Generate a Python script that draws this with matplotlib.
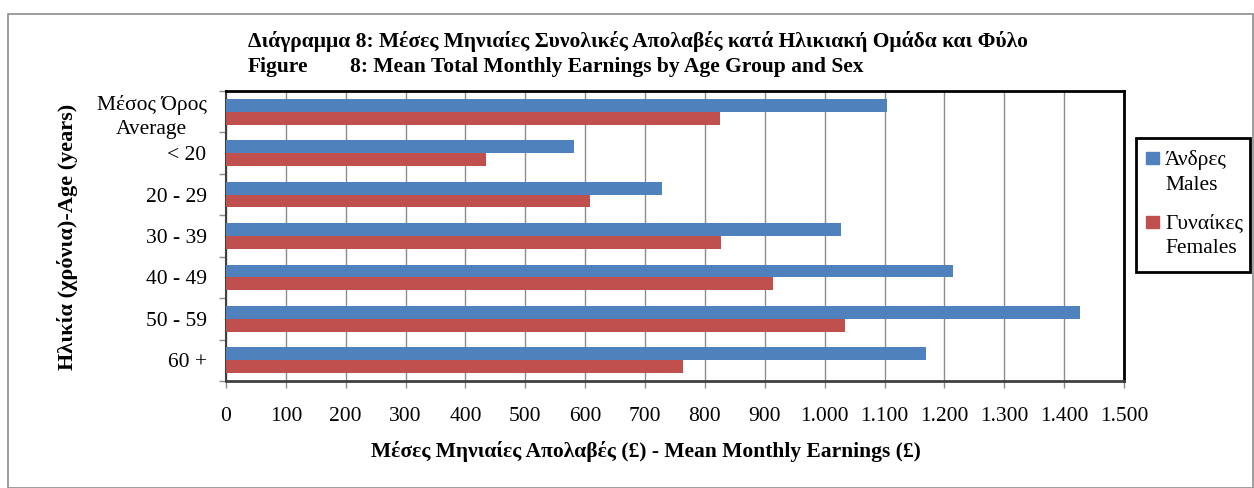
import numpy as np
import matplotlib
matplotlib.use("Agg")
import matplotlib.pyplot as plt
from matplotlib.patches import Rectangle
from matplotlib.ticker import MultipleLocator, FuncFormatter

plt.rcParams['font.family'] = ['Liberation Serif', 'DejaVu Serif']

# --- data ---
age_groups = ["Μέσος Όρος\nAverage", "< 20", "20 - 29", "30 - 39", "40 - 49", "50 - 59", "60 +"]
males = [1104, 581, 729, 1027, 1214, 1427, 1169]
females = [826, 435, 608, 827, 913, 1034, 764]
series_names = ["Άνδρες\nMales", "Γυναίκες\nFemales"]
colors = ["#4F81BD", "#C0504D"]

W, H = 1254, 488
fig = plt.figure(figsize=(W / 100, H / 100), dpi=100)

def fx(px):
    return px / W

def fy(py):
    return 1 - py / H

# outer chart frame
fig.patches.append(Rectangle((fx(8), 0), (W - 9) / W, 1 - 14 / H, transform=fig.transFigure,
                             fill=False, edgecolor="#8c8c8c", linewidth=1.2))

ax = fig.add_axes([fx(226), fy(381), (1124 - 226) / W, (381 - 91) / H])

y = np.arange(len(age_groups))
bh = 0.31
ax.barh(y - bh / 2, males, height=bh, color=colors[0], zorder=3)
ax.barh(y + bh / 2, females, height=bh, color=colors[1], zorder=3)

ax.set_ylim(len(age_groups) - 0.5, -0.5)
ax.set_xlim(0, 1500)

ax.xaxis.set_major_locator(MultipleLocator(100))
ax.xaxis.set_major_formatter(FuncFormatter(lambda v, p: f"{int(v):,}".replace(",", ".")))
ax.grid(axis="x", color="#8c8c8c", linewidth=1.0, zorder=0)

ax.set_yticks(y)
ax.set_yticklabels(age_groups, multialignment="center", linespacing=1.4)
ax.set_yticks(np.arange(-0.5, len(age_groups), 1.0), minor=True)
ax.tick_params(axis="y", which="major", length=0, pad=14, labelsize=15.5)
ax.tick_params(axis="y", which="minor", length=5, color="#8c8c8c", width=1)
ax.tick_params(axis="x", length=5, color="#8c8c8c", width=1, labelsize=15.5, pad=14)

for side in ["top", "right"]:
    ax.spines[side].set_linewidth(2)
    ax.spines[side].set_color("black")
ax.spines["left"].set_linewidth(1.5)
ax.spines["left"].set_color("#404040")
ax.spines["bottom"].set_linewidth(2)
ax.spines["bottom"].set_color("#404040")

fig.text(fx(646), fy(452), "Μέσες Μηνιαίες Απολαβές (£) - Mean Monthly Earnings (£)",
         fontsize=15.5, fontweight="bold", ha="center", va="center")
fig.text(fx(68), fy(237), "Ηλικία (χρόνια)-Age (years)", fontsize=16, fontweight="bold",
         rotation=90, ha="center", va="center")

fig.text(fx(248), fy(42), "Διάγραμμα 8: Μέσες Μηνιαίες Συνολικές Απολαβές κατά Ηλικιακή Ομάδα και Φύλο",
         fontsize=15.5, fontweight="bold", va="center", ha="left")
fig.text(fx(248), fy(67), "Figure", fontsize=15.5, fontweight="bold", va="center", ha="left")
fig.text(fx(350), fy(67), "8: Mean Total Monthly Earnings by Age Group and Sex",
         fontsize=15.5, fontweight="bold", va="center", ha="left")

# legend box, marker aligned with the first text line as in the source chart
fig.patches.append(Rectangle((fx(1136), fy(272)), (1250 - 1136) / W, (272 - 138) / H,
                             transform=fig.transFigure, fill=False, edgecolor="black", linewidth=2))
for i, (name, c) in enumerate(zip(series_names, colors)):
    top = 151 + i * 64
    fig.patches.append(Rectangle((fx(1146), fy(top + 13)), 13 / W, 12 / H,
                                 transform=fig.transFigure, color=c))
    fig.text(fx(1165), fy(top - 1), name, fontsize=15.5, va="top", ha="left", linespacing=1.4)

fig.savefig("out.png", dpi=100)
